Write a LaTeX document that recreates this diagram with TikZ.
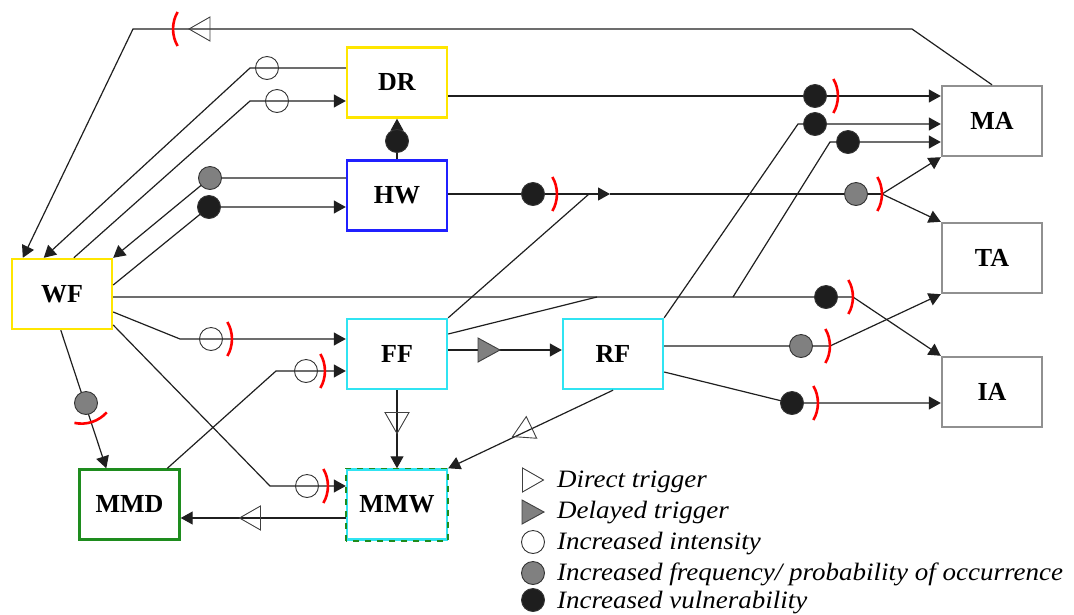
\documentclass[tikz,border=0pt]{standalone}
\usepackage{fontspec}
\usepackage{graphicx}
\setmainfont{Liberation Serif}
\usetikzlibrary{arrows.meta}

\definecolor{cYellow}{HTML}{FFE600}
\definecolor{cBlue}{HTML}{2020FF}
\definecolor{cCyan}{HTML}{30E4F2}
\definecolor{cGreen}{HTML}{1E8C1E}
\definecolor{cGray}{HTML}{909090}
\definecolor{cDark}{HTML}{1E1E1E}
\definecolor{cMid}{HTML}{808080}

\newcommand{\legstretch}[1]{\scalebox{1.08}[1]{#1}}

\tikzset{
  box/.style={draw, line width=2.4pt, minimum width=100pt, minimum height=70pt,
    inner sep=0pt, fill=white, font=\fontsize{26}{30}\selectfont\bfseries},
  conn/.style={line width=1.2pt, draw=black!88},
  arr/.style={conn, -{Triangle[length=12pt,width=13pt]}},
  legtext/.style={anchor=base west, inner sep=0pt,
    font=\fontsize{25}{30}\selectfont\itshape},
  barrier/.pic={\draw[red, line width=2.6pt] (-4.6pt,-17pt) arc[start angle=-30,end angle=30,radius=34pt];},
  dtrig/.pic={\draw[line width=0.9pt, draw=black!75] (10.5pt,0pt) -- (-10.5pt,12pt) -- (-10.5pt,-12pt) -- cycle;},
  ltrig/.pic={\draw[line width=0.9pt, draw=black!75, fill=cMid] (11pt,0pt) -- (-11pt,12pt) -- (-11pt,-12pt) -- cycle;},
  inten/.pic={\draw[line width=0.9pt, draw=black!80] (0pt,0pt) circle[radius=11.5pt];},
  freq/.pic={\draw[line width=0.9pt, draw=black!80, fill=cMid] (0pt,0pt) circle[radius=11.5pt];},
  vuln/.pic={\draw[line width=0.9pt, draw=black!80, fill=cDark] (0pt,0pt) circle[radius=11.5pt];},
}

\begin{document}
\begin{tikzpicture}[x=1pt,y=-1pt]
\useasboundingbox (0,0) rectangle (1074,614);

% boxes
\node[box, draw=cYellow] (WF) at (62,294) {WF};
\node[box, draw=cYellow] (DR) at (397,82.5) {DR};
\node[box, draw=cBlue] (HW) at (397,195.5) {HW};
\node[box, draw=cCyan] (FF) at (397,354) {FF};
\node[box, draw=cCyan] (RF) at (613,354) {RF};
\node[box, draw=cGreen] (MMD) at (129.5,504.5) {MMD};
\node[box, draw=cCyan] (MMW) at (397,504.5) {MMW};
\draw[cGreen, line width=1.6pt, dash pattern=on 6pt off 6pt] (MMW.south west) rectangle (MMW.north east);
\node[box, draw=cGray] (MA) at (992,121) {MA};
\node[box, draw=cGray] (TA) at (992,258) {TA};
\node[box, draw=cGray] (IA) at (992,392) {IA};

% junction points
\coordinate (j5) at (597,297);
\coordinate (j2) at (733,297);
\coordinate (k1) at (853,297);
\coordinate (j4) at (589,194);
\coordinate (ha) at (610,194);
\coordinate (j3) at (882,194);

% MA -> WF (top)
\draw[arr] (MA.north) -- (912,29) -- (133,29) -- ([xshift=12pt]WF.north west);
\pic[rotate=180] at (199.5,29) {dtrig};
\pic[rotate=180] at (173,29) {barrier};

% DR -> WF
\draw[arr] (DR.west |- 0,68) -- (250,68) -- ([xshift=33pt]WF.north west);
\pic at (267,68) {inten};

% WF -> DR
\draw[arr] ([xshift=63pt]WF.north west) -- (250,101) -- (DR.west |- 0,101);
\pic at (277,101) {inten};

% HW -> WF
\draw[arr] (HW.west |- 0,178) -- (210,178) -- (WF.north east);
\pic at (210,178) {freq};

% WF -> HW
\draw[arr] (WF.east |- 0,285) -- (209,207) -- (HW.west |- 0,207);
\pic at (209,207) {vuln};

% HW -> DR
\draw[arr] (HW.north) -- (DR.south);
\pic at (397,141) {vuln};

% DR -> MA
\draw[arr] (DR.east |- 0,96) -- (MA.west |- 0,96);
\pic at (815,96) {vuln};
\pic at (838,96) {barrier};

% RF -> MA
\draw[arr] (RF.north east) -- (798,124) -- (MA.west |- 0,124);
\pic at (815,124) {vuln};

% WF -> IA
\draw[arr] (WF.east |- 0,297) -- (k1) -- (IA.north west);
\pic at (826,297) {vuln};
\pic at (853,297) {barrier};

% branch -> MA
\draw[arr] (j2) -- (830,142) -- (MA.west |- 0,142);
\pic at (848,142) {vuln};

% FF joins
\draw[conn] (FF.east |- 0,334) -- (j5);
\draw[conn] (FF.north east) -- (j4);

% HW -> MA / TA
\draw[arr] (HW.east |- 0,194) -- (ha);
\draw[conn] (ha) -- (j3);
\draw[arr] (j3) -- (MA.south west);
\draw[arr] (j3) -- (TA.north west);
\pic at (533,194) {vuln};
\pic at (557,194) {barrier};
\pic at (856,194) {freq};
\pic at (882,194) {barrier};

% RF -> TA
\draw[arr] (RF.east |- 0,346) -- (830,346) -- (TA.south west);
\pic at (801,346) {freq};
\pic at (830,346) {barrier};

% RF -> IA
\draw[arr] (RF.east |- 0,372) -- (790,403) -- (IA.west |- 0,403);
\pic at (792,403) {vuln};
\pic at (818,403) {barrier};

% FF -> RF
\draw[arr] (FF.east |- 0,350) -- (RF.west |- 0,350);
\pic at (489,350) {ltrig};

% FF -> MMW
\draw[arr] (FF.south) -- (MMW.north);
\pic[rotate=-90] at (397,423) {dtrig};

% RF -> MMW
\draw[arr] (RF.south) -- (MMW.north east);
\pic[rotate=205.7] at (522,432) {dtrig};

% MMW -> MMD
\draw[arr] (MMW.west |- 0,518) -- (MMD.east |- 0,518);
\pic[rotate=180] at (250,518) {dtrig};

% WF -> MMD
\draw[arr] ([xshift=50pt]WF.south west) -- ([xshift=28pt]MMD.north west);
\pic at (86,403) {freq};
\pic[rotate=-72] at (92,422) {barrier};

% WF -> FF
\draw[arr] (WF.east |- 0,312) -- (180,339) -- (FF.west |- 0,339);
\pic at (211,339) {inten};
\pic at (232,339) {barrier};

% WF -> MMW
\draw[arr] (WF.east |- 0,325) -- (270,486) -- (MMW.west |- 0,486);
\pic at (307,486) {inten};
\pic at (328,486) {barrier};

% MMD -> FF
\draw[arr] ([xshift=89pt]MMD.north west) -- (276,371) -- (FF.west |- 0,371);
\pic at (306,371) {inten};
\pic at (325,371) {barrier};

% legend
\pic at (533,480) {dtrig};
\pic at (533,512) {ltrig};
\pic at (533,542) {inten};
\pic at (533,573) {freq};
\pic at (533,600) {vuln};
\node[legtext] (L1) at (557,487) {\legstretch{Direct trigger}};
\node[legtext] (L2) at (557,518) {\legstretch{Delayed trigger}};
\node[legtext] (L3) at (557,549) {\legstretch{Increased intensity}};
\node[legtext] (L4) at (557,580) {\legstretch{Increased frequency/ probability of occurrence}};
\node[legtext] (L5) at (557,608) {\legstretch{Increased vulnerability}};
\end{tikzpicture}
\end{document}
